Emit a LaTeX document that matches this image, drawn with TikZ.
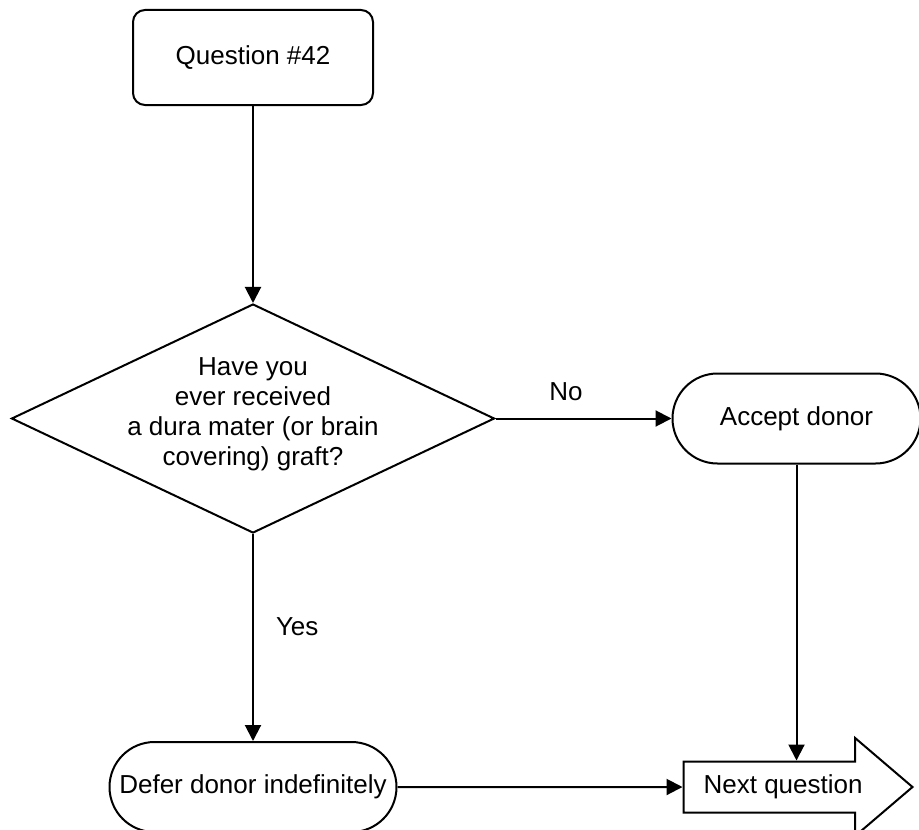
\documentclass[tikz,border=0pt]{standalone}
\usepackage{fontspec}
\setmainfont{Liberation Sans}
\usetikzlibrary{positioning,arrows.meta,shapes.geometric,shapes.arrows}

\begin{document}
\begin{tikzpicture}[
            node distance=1cm,
            font=\fontsize{13}{15}\selectfont,
            box/.style={rectangle, draw, line width=1pt, rounded corners=6pt,
                       minimum width=120pt, minimum height=47.5pt, inner sep=0pt},
            decision/.style={diamond, draw, line width=1pt, minimum width=241.5pt,
                            minimum height=114.5pt, inner sep=0pt},
            terminal/.style={rectangle, draw, line width=1pt, rounded corners=22.5pt,
                            minimum height=45pt, inner sep=0pt},
            nextarrow/.style={single arrow, draw, line width=1pt, single arrow tip angle=81,
                             single arrow head extend=11.75pt, minimum height=114.5pt,
                             text height=9pt, text depth=3pt, inner ysep=6.25pt, inner xsep=2pt},
            arrow/.style={-{Triangle[length=8pt,width=8pt]}, line width=1pt},
            answer/.style={inner sep=0pt}
        ]
            \useasboundingbox (0pt,0pt) rectangle (459.5pt,-414.5pt);

            % question and decision
            \node[box] (question) at (126.5pt,-28.75pt) {Question \#42};

            \node[decision, below=98.5pt of question] (graft) {};
            \node[align=center, yshift=2pt] (graftq) at (graft) {Have you\\ever received\\a dura mater (or brain\\covering) graft?};

            \draw[arrow] (question) -- (graft);

            % outcomes
            \node[terminal, minimum width=124pt, right=88pt of graft] (accept) {Accept donor};

            \node[terminal, minimum width=143.5pt, below=103.5pt of graft] (defer) {Defer donor indefinitely};

            \node[nextarrow, right=142.5pt of defer] (next) {Next question};

            \draw[arrow] (graft) -- node[answer, pos=0.4, above=8.5pt] (no) {No} (accept);
            \draw[arrow] (graft) -- node[answer, pos=0.45, right=11pt] (yes) {Yes} (defer);
            \draw[arrow] (accept) -- (accept |- next.north);
            \draw[arrow] (defer) -- (next);
        \end{tikzpicture}
\end{document}
